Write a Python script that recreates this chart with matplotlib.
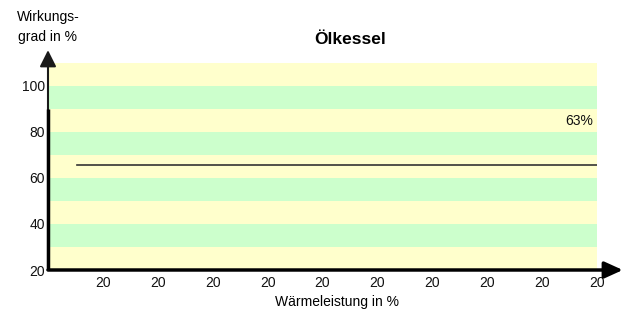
import matplotlib
matplotlib.use("Agg")
import matplotlib.pyplot as plt

plt.rcParams['font.family'] = ['Liberation Sans', 'DejaVu Sans']

title = "Ölkessel"
ylabel = "Wirkungs-\ngrad in %"
xlabel = "Wärmeleistung in %"
x_ticks = [1, 2, 3, 4, 5, 6, 7, 8, 9, 10]
x_ticklabels = ["20"] * 10
y_ticks = [20, 40, 60, 80, 100]
line_x = [0.53, 10.0]
line_y = [65.5, 65.5]
annotation = "63%"
annotation_pos = (9.93, 84.8)
band_edges = [20, 30, 40, 50, 60, 70, 80, 90, 100, 110]
band_colors = ["#FFFFCC", "#CCFFCC"]

fig = plt.figure(figsize=(6.26, 3.11), dpi=100)
ax = fig.add_axes([48/626, 1 - 270/311, 549/626, (270-63)/311])
ax.set_xlim(0, 10)
ax.set_ylim(20, 110)

for i in range(len(band_edges) - 1):
    ax.axhspan(band_edges[i], band_edges[i+1], color=band_colors[i % 2], lw=0, zorder=0)

ax.plot(line_x, line_y, color='#333333', lw=1.2, zorder=2)
ax.text(*annotation_pos, annotation, ha='right', va='center', fontsize=10, color='#111111')

for s in ax.spines.values():
    s.set_visible(False)

ax.set_xticks(x_ticks)
ax.set_xticklabels(x_ticklabels)
ax.set_yticks(y_ticks)
ax.tick_params(axis='both', length=0, labelsize=10, colors='#111111')
ax.tick_params(axis='x', pad=4)
ax.tick_params(axis='y', pad=2)

# x axis with arrow
ax.annotate('', xy=(10.47, 20), xytext=(0, 20), xycoords='data',
            arrowprops=dict(arrowstyle='-|>,head_length=1.1,head_width=0.5', color='black', lw=2.5,
                            shrinkA=0, shrinkB=0), annotation_clip=False)
# y axis: thin arrow, thick black lower part
ax.annotate('', xy=(0, 115.6), xytext=(0, 20), xycoords='data',
            arrowprops=dict(arrowstyle='-|>,head_length=1.0,head_width=0.5', color='#1a1a1a', lw=1.5,
                            shrinkA=0, shrinkB=0), annotation_clip=False)
ax.plot([0, 0], [20, 90], color='black', lw=2.5, clip_on=False, zorder=3, solid_capstyle='butt')

fig.text(350/626, 1 - 40/311, title, ha='center', va='center', fontsize=12.5, fontweight='bold')
fig.text(48/626, 1 - 27/311, ylabel, ha='center', va='center', fontsize=10, linespacing=1.6)
fig.text(337/626, 1 - 302/311, xlabel, ha='center', va='center', fontsize=10)

fig.savefig("out.png", dpi=100)
